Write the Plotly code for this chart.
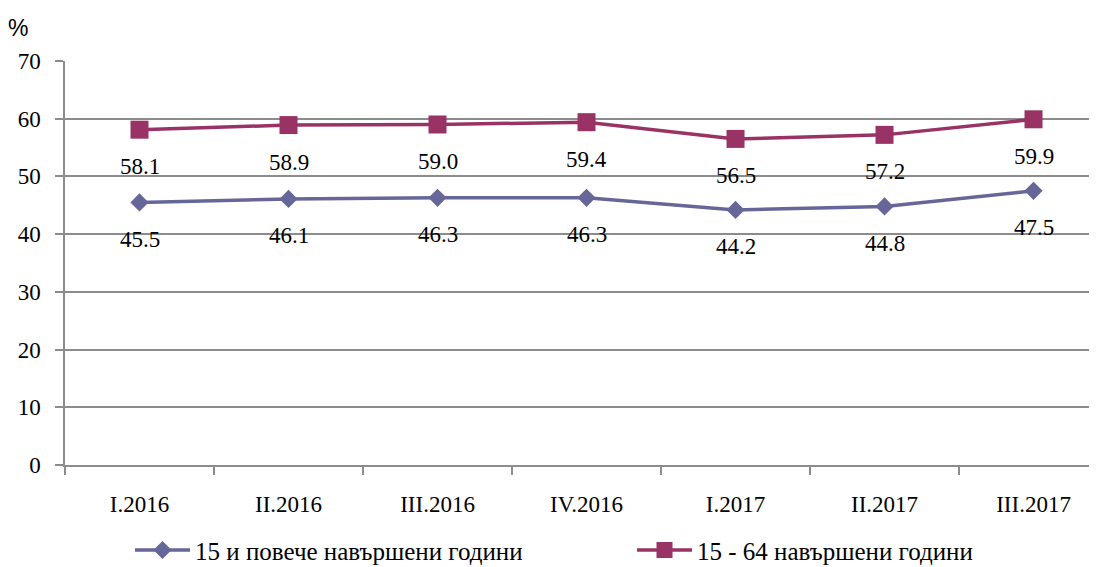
import plotly.graph_objects as go

categories = ["I.2016", "II.2016", "III.2016", "IV.2016", "I.2017", "II.2017", "III.2017"]
series_15plus = [45.5, 46.1, 46.3, 46.3, 44.2, 44.8, 47.5]
series_15_64 = [58.1, 58.9, 59.0, 59.4, 56.5, 57.2, 59.9]
name_15plus = "15 и повече навършени години"
name_15_64 = "15 - 64 навършени години"
y_ticks = [0, 10, 20, 30, 40, 50, 60, 70]

BLUE = "#666699"
MAROON = "#993366"
FONT = "Liberation Serif, Times New Roman, serif"

fig = go.Figure()
fig.add_trace(go.Scatter(
    x=categories, y=series_15plus, name=name_15plus, mode="lines+markers",
    line=dict(color=BLUE, width=3.5),
    marker=dict(symbol="diamond", size=14, color=BLUE),
))
fig.add_trace(go.Scatter(
    x=categories, y=series_15_64, name=name_15_64, mode="lines+markers",
    line=dict(color=MAROON, width=3.5),
    marker=dict(symbol="square", size=18, color=MAROON),
))

for vals in (series_15plus, series_15_64):
    for c, v in zip(categories, vals):
        fig.add_annotation(x=c, y=v, text=f"{v:.1f}", showarrow=False,
                           yshift=-37, font=dict(family=FONT, size=23, color="black"))

fig.add_annotation(xref="paper", yref="paper", x=-0.0455, y=1.082, xanchor="center",
                   yanchor="middle", text="%", showarrow=False,
                   font=dict(family="Liberation Sans, Arial, sans-serif", size=23, color="black"))

fig.update_layout(
    width=1089, height=559,
    margin=dict(l=57, r=0, t=53, b=102, autoexpand=False),
    plot_bgcolor="white", paper_bgcolor="white",
    font=dict(family=FONT, size=23, color="black"),
    showlegend=True,
    legend=dict(orientation="h", x=0.063, xanchor="left", y=-0.211, yanchor="middle",
                font=dict(family=FONT, size=25), entrywidth=432, itemwidth=55,
                tracegroupgap=0),
    xaxis=dict(type="category", range=[-0.5, 6.426], tickson="boundaries",
               ticks="outside", ticklen=8, tickcolor="#8c8c8c", tickwidth=1.5,
               showline=True, linecolor="#8c8c8c", linewidth=1.5,
               showgrid=False, ticklabelstandoff=18,
               tickfont=dict(family=FONT, size=23)),
    yaxis=dict(range=[0, 70], tickvals=y_ticks, ticks="outside", ticklen=8,
               tickcolor="#8c8c8c", tickwidth=1.5, showline=True,
               linecolor="#8c8c8c", linewidth=1.5, showgrid=True,
               gridcolor="#8c8c8c", gridwidth=1.5, zeroline=False,
               ticklabelstandoff=10,
               tickfont=dict(family=FONT, size=23)),
)

fig.write_html("out.html")
